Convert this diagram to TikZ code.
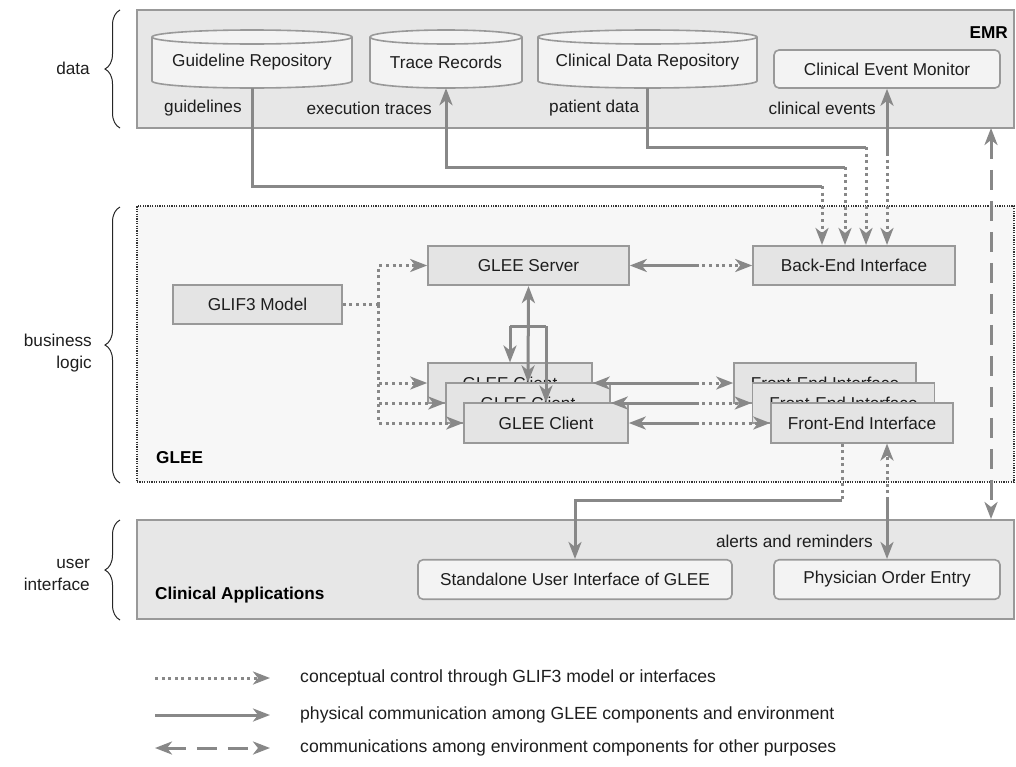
\documentclass[tikz,border=0pt]{standalone}
\usepackage{fontspec}
\setmainfont{Liberation Sans}
\usepackage{tikz}
\usetikzlibrary{arrows.meta,positioning,calc,decorations.pathreplacing}

\definecolor{wire}{HTML}{888888}
\definecolor{edge}{HTML}{999999}
\definecolor{panel}{HTML}{E7E7E7}
\definecolor{panellight}{HTML}{F7F7F7}
\definecolor{boxfill}{HTML}{E4E4E4}
\definecolor{dbfill}{HTML}{F3F3F3}
\definecolor{ink}{HTML}{1E1E1E}

\begin{document}
\begin{tikzpicture}[
  x=1pt, y=-1pt,
  font=\fontsize{17.2}{22}\selectfont,
  >={Stealth[length=17pt, width=13pt, inset=5pt]},
  layer/.style={rectangle, draw=edge, line width=2pt, fill=panel, inner sep=0pt},
  box/.style={rectangle, draw=edge, line width=1.6pt, fill=boxfill, text=ink,
    minimum height=39.5pt, inner sep=0pt},
  app/.style={box, rounded corners=5pt, fill=dbfill},
  db/.style={draw=edge, line width=1.6pt, fill=dbfill},
  dbtext/.style={text=ink, minimum height=52pt, inner sep=0pt},
  annot/.style={text=ink, inner sep=0pt},
  legtext/.style={annot, anchor=west, font=\fontsize{17.6}{22}\selectfont},
  tag/.style={font=\fontsize{17.2}{22}\selectfont\bfseries, text=black, inner sep=0pt},
  side/.style={align=right, anchor=east, text=ink, inner sep=0pt},
  phys/.style={draw=wire, line width=3pt},
  ctrl/.style={draw=wire, line width=3pt, dash pattern=on 3pt off 3.6pt},
  env/.style={draw=wire, line width=3pt, dash pattern=on 20pt off 11pt},
  brace/.style={decorate, decoration={brace, amplitude=15pt}, line width=1pt, draw=black!85},
]
  \useasboundingbox (0,0) rectangle (1016,766);

  % Layers
  \node[layer, minimum width=877pt, minimum height=118pt] (emr) at (575.5,69) {};
  \node[layer, fill=panellight, draw=black!80, line width=1.2pt, dash pattern=on 1.2pt off 1.2pt,
    minimum width=877pt, minimum height=276pt] (glee) at (575.5,344) {};
  \node[layer, minimum width=877pt, minimum height=99pt] (apps) at (575.5,569.5) {};

  \node[tag, anchor=east] (emrtag) at (1008,33) {EMR};
  \node[tag, anchor=west] (gleetag) at (156,458) {GLEE};
  \node[tag, anchor=west] (appstag) at (155,595) {Clinical Applications};

  % Layer braces
  \node[side] (ldata) at (90,68) {data};
  \node[side] (llogic) at (92,353) {business\\logic};
  \node[side] (lui) at (90,575) {user\\interface};
  \draw[brace] (120,128) -- (120,10);
  \draw[brace] (120,483) -- (120,207);
  \draw[brace] (120,620) -- (120,520);

  % EMR stores
  \foreach \nm/\cx/\r/\txt in {grepo/252/100/Guideline Repository,
      trace/446/76/Trace Records, cdr/647.5/109.5/Clinical Data Repository} {
    \draw[db] ({\cx-\r},37) -- ({\cx-\r},81)
      arc[start angle=180, end angle=360, x radius=\r pt, y radius=7pt]
      -- ({\cx+\r},37)
      arc[start angle=0, end angle=180, x radius=\r pt, y radius=7pt] -- cycle;
    \draw[db, fill=none] ({\cx-\r},37)
      arc[start angle=180, end angle=360, x radius=\r pt, y radius=7pt];
    \node[dbtext, minimum width={2*\r pt}] (\nm) at (\cx,62) {\txt};
  }
  \node[app, minimum width=226pt, minimum height=38pt] (cem) at (887,69) {Clinical Event Monitor};

  \node[annot, anchor=west] (glabel) at (164,108) {guidelines};
  \node[annot, anchor=east] (tlabel) at (432,108) {execution traces};
  \node[annot, anchor=west] (plabel) at (549,108) {patient data};
  \node[annot, anchor=east] (elabel) at (876,108) {clinical events};

  % GLEE components
  \node[box, minimum width=169pt] (glif) at (257.5,304.5) {GLIF3 Model};
  \node[box, minimum width=201pt] (server) at (528.5,265.5) {GLEE Server};
  \node[box, minimum width=202pt] (backend) at (854,265.5) {Back-End Interface};

  \node[box, minimum width=164pt] (c1) at (510,383) {GLEE Client};
  \node[box, minimum width=164pt] (c2) at ([shift={(18,20)}]c1.center) {GLEE Client};
  \node[box, minimum width=164pt] (c3) at ([shift={(18,20)}]c2.center) {GLEE Client};

  \node[box, minimum width=182pt] (f1) at (825,383) {Front-End Interface};
  \node[box, minimum width=182pt] (f2) at ([shift={(18.5,20)}]f1.center) {Front-End Interface};
  \node[box, minimum width=182pt] (f3) at ([shift={(18.5,20)}]f2.center) {Front-End Interface};

  % Clinical applications
  \node[app, minimum width=314pt] (standalone) at (575,579.5) {Standalone User Interface of GLEE};
  \node[app, minimum width=226pt] (physician) at (887,579.5) {Physician Order Entry};
  \node[annot, anchor=east] (alabel) at (873,541) {alerts and reminders};

  % EMR <-> back-end
  \coordinate (gbend) at (822,186);
  \coordinate (tbend) at (845,167);
  \coordinate (pbend) at (866,147);
  \coordinate (ebend) at (887,153);
  \draw[phys] (grepo.south) |- (gbend);
  \draw[ctrl,->] (gbend) -- (gbend |- backend.north);
  \draw[phys,->] (tbend) -| (trace.south);
  \draw[ctrl,->] (tbend) -- (tbend |- backend.north);
  \draw[phys] (cdr.south) |- (pbend);
  \draw[ctrl,->] (pbend) -- (pbend |- backend.north);
  \draw[phys,<-] (cem.south) -- (ebend);
  \draw[ctrl,->] (ebend) -- (ebend |- backend.north);

  % Server, clients, interfaces
  \coordinate (sbmid) at ([xshift=66pt]server.east);
  \draw[phys,<-] (server.east) -- (sbmid);
  \draw[ctrl,->] (sbmid) -- (backend.west);
  \foreach \i in {1,2,3} {
    \draw[phys,<-] (c\i.east) -- (c\i.east -| sbmid);
    \draw[ctrl,->] (c\i.east -| sbmid) -- (f\i.west);
  }

  \coordinate (fork) at ([yshift=-40pt]server.south);
  \draw[phys,<->] (server.south) -- (c2.north);
  \draw[phys] (c1.north |- fork) -- (c3.north |- fork);
  \draw[phys,->] (c1.north |- fork) -- (c1.north);
  \draw[phys,->] (c3.north |- fork) -- (c3.north);

  % GLIF3 model control
  \coordinate (split) at ([xshift=36pt]glif.east);
  \draw[ctrl] (glif.east) -- (split);
  \draw[ctrl,->] (split) |- (server.west);
  \draw[ctrl,->] (split) |- (c3.west);
  \draw[ctrl,->] (split |- c1.west) -- (c1.west);
  \draw[ctrl,->] (split |- c2.west) -- (c2.west);

  % Front-end -> applications
  \coordinate (ubend) at (842,500);
  \coordinate (obend) at (physician.north |- ubend);
  \draw[ctrl] (ubend |- f3.south) -- (ubend);
  \draw[phys,->] (ubend) -| (standalone.north);
  \draw[ctrl,->] (obend) -- (f3.south -| physician.north);
  \draw[phys,->] (obend) -- (physician.north);

  % EMR <-> applications
  \coordinate (envtop) at (991,128);
  \coordinate (envbot) at (envtop |- apps.north);
  \draw[env,<->] (envtop) -- (envbot);

  % Legend
  \node[legtext] (leg1) at (300,678) {conceptual control through GLIF3 model or interfaces};
  \node[legtext] (leg2) at (300,715) {physical communication among GLEE components and environment};
  \node[legtext] (leg3) at (300,748) {communications among environment components for other purposes};
  \coordinate (la1) at (155,678); \coordinate (lb1) at (270,678);
  \coordinate (la2) at (155,715); \coordinate (lb2) at (270,715);
  \coordinate (la3) at (155,748); \coordinate (lb3) at (270,748);
  \draw[ctrl,->] (la1) -- (lb1);
  \draw[phys,->] (la2) -- (lb2);
  \draw[env,<->] (la3) -- (lb3);
\end{tikzpicture}
\end{document}
